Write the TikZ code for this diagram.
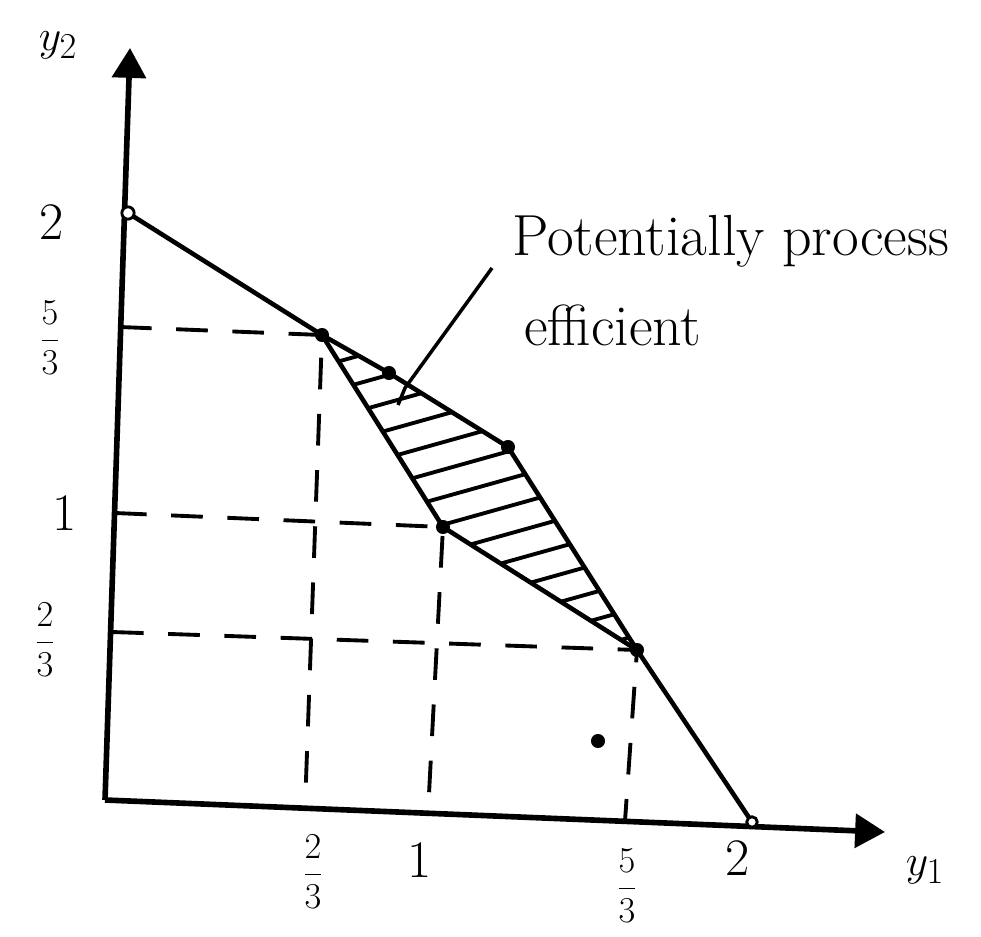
\documentclass[tikz,border=0pt]{standalone}
\usetikzlibrary{arrows.meta}
\begin{document}
\begin{tikzpicture}[x=0.02cm,y=-0.02cm,
    axis/.style={line width=3.2pt,-{Triangle[length=17pt,width=19pt]}},
    edge/.style={line width=2.6pt,line join=round},
    guide/.style={line width=2.2pt,dash pattern=on 18pt off 14pt},
    hatch/.style={line width=2.2pt},
    lab/.style={font=\fontsize{30}{36}\selectfont},
    fraclab/.style={font=\fontsize{20}{24}\selectfont,inner sep=1pt}]
    \useasboundingbox (0,0) rectangle (981,937);
    % body (souradnice v pixelech predlohy)
    \coordinate (O) at (105,800);
    \coordinate (ytop) at (130,48);
    \coordinate (xend) at (885,832);
    \coordinate (A) at (128,213);
    \coordinate (B) at (322,335);
    \coordinate (P) at (389,373);
    \coordinate (C) at (508,447);
    \coordinate (D) at (443,527);
    \coordinate (E) at (637,650);
    \coordinate (F) at (752,822);
    \coordinate (S) at (598,741);
    % paty pomocnych car na osach
    \coordinate (yB) at (120,327);
    \coordinate (yD) at (115,513);
    \coordinate (yE) at (112,632);
    \coordinate (xB) at (305,808);
    \coordinate (xD) at (428,813);
    \coordinate (xE) at (625,821);

    % srafovana oblast
    \begin{scope}
        \clip (B) -- (P) -- (C) -- (E) -- (D) -- cycle;
        \foreach \k in {0,...,14}
            \draw[hatch] (233,{307.5+27.5*\k+56}) -- (733,{307.5+27.5*\k-84});
    \end{scope}

    % osy
    \draw[axis] (O) -- (ytop);
    \draw[axis] (O) -- (xend);
    \node[lab] (y2lab) at (58,45) {$y_2$};
    \node[lab] (y1lab) at (925,870) {$y_1$};

    % pomocne carkovane cary
    \draw[guide] (yB) -- (B) -- (xB);
    \draw[guide] (yD) -- (D) -- (xD);
    \draw[guide] (yE) -- (E) -- (xE);

    % hranice
    \draw[edge] (A) -- (B) -- (P) -- (C) -- (E) -- (F);
    \draw[edge] (B) -- (D) -- (E);

    \draw[line width=1.6pt,fill=white] (A) circle (3.5pt);
    \draw[line width=1.6pt,fill=white] (F) circle (3pt);
    \foreach \p in {B,P,C,D,E,S}
        \fill (\p) circle (4pt);

    % popisky os
    \node[lab] (l2) at (52,222) {2};
    \node[fraclab] (l53) at (50,338) {$\displaystyle\frac{5}{3}$};
    \node[lab] (l1) at (65,513) {1};
    \node[fraclab] (l23) at (45,640) {$\displaystyle\frac{2}{3}$};
    \node[fraclab] (b23) at (313,872) {$\displaystyle\frac{2}{3}$};
    \node[lab] (b1) at (420,860) {1};
    \node[fraclab] (b53) at (627,886) {$\displaystyle\frac{5}{3}$};
    \node[lab] (b2) at (738,858) {2};

    % poznamka
    \node[lab,font=\fontsize{33}{40}\selectfont,anchor=base west] (note1) at (506,255) {Potentially process};
    \node[lab,font=\fontsize{33}{40}\selectfont,anchor=base west] (note2) at (518,345) {efficient};
    \coordinate (ptr) at (492,268);
    \coordinate (tip) at (398,405);
    \draw[line width=2pt] (ptr) -- (405,388) -- (tip);
\end{tikzpicture}
\end{document}
